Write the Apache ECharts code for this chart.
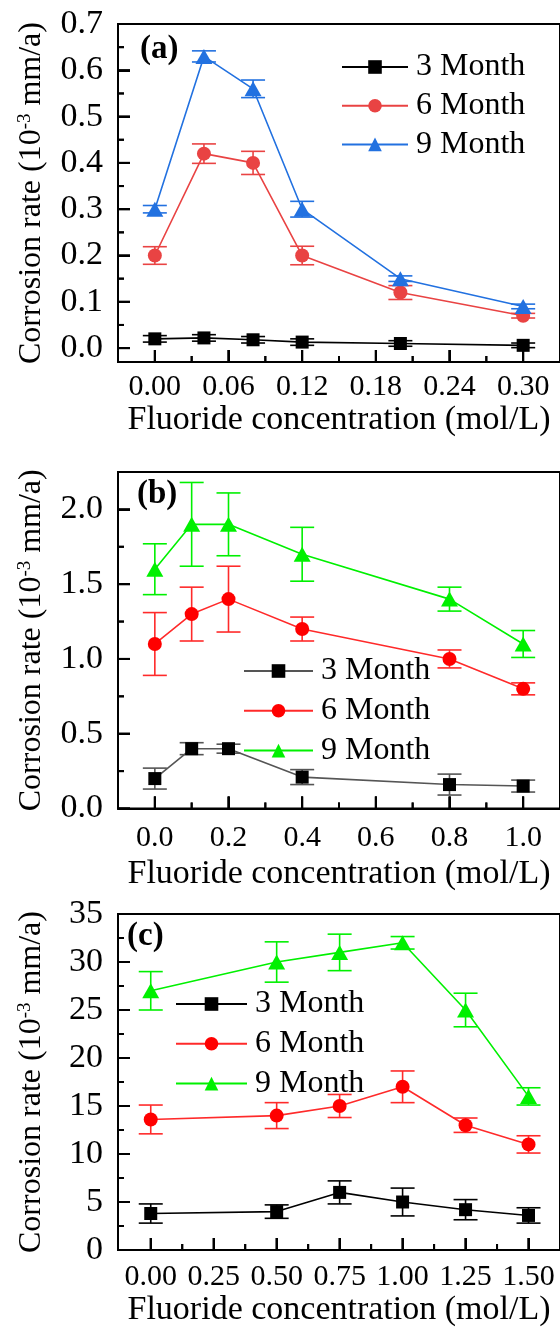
<!DOCTYPE html>
<html>
<head>
<meta charset="utf-8">
<script src="https://cdn.jsdelivr.net/npm/echarts@6/dist/echarts.min.js"></script>
<style>
  html, body { margin: 0; padding: 0; background: #fff; }
  #chart { width: 560px; height: 1329px; background: #fff; }
</style>
</head>
<body>
<div id="chart"></div>
<script>
// ---- Panel (a) ----
const aConc = [0, 0.04, 0.08, 0.12, 0.20, 0.30];
const a3 = [0.020, 0.022, 0.018, 0.013, 0.010, 0.006];
const a3Err = [0.007, 0.007, 0.007, 0.007, 0.006, 0.005];
const a6 = [0.20, 0.42, 0.40, 0.20, 0.12, 0.07];
const a6Err = [0.019, 0.021, 0.025, 0.020, 0.015, 0.005];
const a9 = [0.30, 0.63, 0.56, 0.30, 0.15, 0.09];
const a9Err = [0.008, 0.012, 0.019, 0.017, 0.006, 0.005];
const aXTicks = [0, 0.06, 0.12, 0.18, 0.24, 0.30];
const aXMinor = [0.03, 0.09, 0.15, 0.21, 0.27];
const aYTicks = [0, 0.1, 0.2, 0.3, 0.4, 0.5, 0.6, 0.7];
const aYMinor = [0.05, 0.15, 0.25, 0.35, 0.45, 0.55, 0.65];

// ---- Panel (b) ----
const bConc = [0, 0.1, 0.2, 0.4, 0.8, 1.0];
const b3 = [0.20, 0.40, 0.40, 0.21, 0.16, 0.15];
const b3Err = [0.07, 0.04, 0.03, 0.05, 0.07, 0.04];
const b6 = [1.10, 1.30, 1.40, 1.20, 1.00, 0.80];
const b6Err = [0.21, 0.18, 0.22, 0.08, 0.06, 0.04];
const b9 = [1.60, 1.90, 1.90, 1.70, 1.40, 1.10];
const b9Err = [0.17, 0.28, 0.21, 0.18, 0.08, 0.09];
const bXTicks = [0, 0.2, 0.4, 0.6, 0.8, 1.0];
const bXMinor = [0.1, 0.3, 0.5, 0.7, 0.9];
const bYTicks = [0, 0.5, 1.0, 1.5, 2.0];
const bYMinor = [0.25, 0.75, 1.25, 1.75];

// ---- Panel (c) ----
const cConc = [0, 0.5, 0.75, 1.0, 1.25, 1.5];
const c3 = [3.8, 4.0, 6.0, 5.0, 4.2, 3.6];
const c3Err = [1.0, 0.7, 1.2, 1.45, 1.05, 0.8];
const c6 = [13.6, 14.0, 15.0, 17.0, 13.0, 11.0];
const c6Err = [1.5, 1.35, 1.2, 1.65, 0.75, 0.9];
const c9 = [27.0, 30.0, 31.0, 32.0, 25.0, 16.0];
const c9Err = [2.0, 2.1, 1.9, 0.65, 1.75, 0.9];
const cXTicks = [0, 0.25, 0.5, 0.75, 1.0, 1.25, 1.5];
const cXMinor = [0.125, 0.375, 0.625, 0.875, 1.125, 1.375];
const cYTicks = [0, 5, 10, 15, 20, 25, 30, 35];
const cYMinor = [2.5, 7.5, 12.5, 17.5, 22.5, 27.5, 32.5];

const monthNames = ['3 Month', '6 Month', '9 Month'];
const xTitle = 'Fluoride concentration (mol/L)';
const yTitle = 'Corrosion rate (10{sup|-3} mm/a)';

const FONT = '"Liberation Serif", "Times New Roman", serif';

// panel layout and styling
const panels = [
  {
    key: 'a', label: '(a)', conc: aConc,
    vals: [a3, a6, a9], errs: [a3Err, a6Err, a9Err],
    colors: ['#000000', '#e94343', '#2271e0'], lineColors: ['#000000', '#e94343', '#2271e0'],
    xMin: -0.03, xMax: 0.33, yMin: -0.03, yMax: 0.7,
    xTicks: aXTicks, xMinor: aXMinor, yTicks: aYTicks, yMinor: aYMinor, xDec: 2, yDec: 1,
    top: 24, height: 338, xMargin: 10, xGap: 40,
    labelPos: [140, 33],
    legend: { left: 341, top: 51, gap: 6.7, width: 66 }
  },
  {
    key: 'b', label: '(b)', conc: bConc,
    vals: [b3, b6, b9], errs: [b3Err, b6Err, b9Err],
    colors: ['#000000', '#ff0000', '#00f000'], lineColors: ['#555555', '#ff2a2a', '#00f000'],
    xMin: -0.1, xMax: 1.1, yMin: 0, yMax: 2.25,
    xTicks: bXTicks, xMinor: bXMinor, yTicks: bYTicks, yMinor: bYMinor, xDec: 1, yDec: 1,
    top: 472, height: 336.5, xMargin: 15, xGap: 49,
    labelPos: [137, 478],
    legend: { left: 243, top: 655, gap: 7.8, width: 69 }
  },
  {
    key: 'c', label: '(c)', conc: cConc,
    vals: [c3, c6, c9], errs: [c3Err, c6Err, c9Err],
    colors: ['#000000', '#ff0000', '#00f000'], lineColors: ['#000000', '#ff2a2a', '#00f000'],
    xMin: -0.13, xMax: 1.625, yMin: 0, yMax: 35,
    xTicks: cXTicks, xMinor: cXMinor, yTicks: cYTicks, yMinor: cYMinor, xDec: 2, yDec: 0,
    top: 914, height: 336, xMargin: 12, xGap: 36,
    labelPos: [127, 920],
    legend: { left: 175, top: 988, gap: 7.8, width: 71 }
  }
];

const symbols = ['rect', 'circle', 'triangle'];
const symbolSizes = [13, 14, [17, 15]];
const MAJOR_LEN = 12, MINOR_LEN = 6;

const grid = [], xAxis = [], yAxis = [], series = [], legend = [], title = [];

panels.forEach((p, gi) => {
  grid.push({
    left: 118, width: 444, top: p.top, height: p.height,
    show: true, borderColor: '#000', borderWidth: 2
  });

  xAxis.push({
    type: 'value', gridIndex: gi, min: p.xMin, max: p.xMax, position: 'bottom',
    axisLine: { show: true, onZero: false, lineStyle: { color: '#000', width: 2 } },
    splitLine: { show: false },
    axisTick: { show: true, inside: true, length: MAJOR_LEN, customValues: p.xTicks,
      lineStyle: { color: '#000', width: 2 } },
    axisLabel: {
      customValues: p.xTicks, formatter: v => v.toFixed(p.xDec), margin: p.xMargin,
      color: '#000', fontFamily: FONT, fontSize: 30
    },
    name: xTitle, nameLocation: 'middle', nameGap: p.xGap,
    nameTextStyle: { color: '#000', fontFamily: FONT, fontSize: 34 }
  });
  yAxis.push({
    type: 'value', gridIndex: gi, min: p.yMin, max: p.yMax, position: 'left',
    axisLine: { show: true, onZero: false, lineStyle: { color: '#000', width: 2 } },
    splitLine: { show: false },
    axisTick: { show: true, inside: true, length: MAJOR_LEN, customValues: p.yTicks,
      lineStyle: { color: '#000', width: 2 } },
    axisLabel: {
      customValues: p.yTicks, formatter: v => v.toFixed(p.yDec), margin: 15,
      color: '#000', fontFamily: FONT, fontSize: 34
    },
    name: yTitle, nameLocation: 'middle', nameGap: 70,
    nameTextStyle: {
      color: '#000', fontFamily: FONT, fontSize: 32, lineHeight: 32,
      rich: { sup: { color: '#000', fontFamily: FONT, fontSize: 19, lineHeight: 19, verticalAlign: 'top' } }
    }
  });

  // inward major/minor ticks along the bottom and left spines, positioned by the
  // axis scales; third value: 0/1 = x major/minor, 2/3 = y major/minor
  const tickRows = [].concat(
    p.xTicks.map(v => [v, p.yMin, 0]), p.xMinor.map(v => [v, p.yMin, 1]),
    p.yTicks.map(v => [p.xMin, v, 2]), p.yMinor.map(v => [p.xMin, v, 3])
  );
  series.push({
    type: 'custom', xAxisIndex: gi, yAxisIndex: gi, zlevel: 1,
    data: tickRows,
    encode: { x: 0, y: 1 },
    renderItem: (params, api) => {
      const c = api.coord([api.value(0), api.value(1)]);
      const kind = api.value(2);
      const len = (kind === 0 || kind === 2) ? MAJOR_LEN : MINOR_LEN;
      const shape = kind < 2
        ? { x1: c[0], y1: c[1], x2: c[0], y2: c[1] - len }
        : { x1: c[0], y1: c[1], x2: c[0] + len, y2: c[1] };
      return { type: 'line', shape, style: { stroke: '#000', lineWidth: 2 } };
    }
  });

  const names = [];
  p.vals.forEach((vals, si) => {
    const name = p.key + ':' + monthNames[si];
    names.push(name);
    const color = p.colors[si];
    const lineColor = p.lineColors[si];
    // error bars
    series.push({
      type: 'custom', name: name + ' err', xAxisIndex: gi, yAxisIndex: gi,
      silent: true, z: 2,
      data: p.conc.map((x, i) => [x, vals[i], p.errs[si][i]]),
      encode: { x: 0, y: 1 },
      renderItem: (params, api) => {
        const x = api.value(0), y = api.value(1), e = api.value(2);
        const t = api.coord([x, y + e]);
        const b = api.coord([x, y - e]);
        const hw = 12;
        const style = { stroke: lineColor, lineWidth: 1.6, fill: null };
        return {
          type: 'group', children: [
            { type: 'line', shape: { x1: t[0], y1: t[1], x2: b[0], y2: b[1] }, style },
            { type: 'line', shape: { x1: t[0] - hw, y1: t[1], x2: t[0] + hw, y2: t[1] }, style },
            { type: 'line', shape: { x1: b[0] - hw, y1: b[1], x2: b[0] + hw, y2: b[1] }, style }
          ]
        };
      }
    });
    // line + markers
    series.push({
      type: 'line', name, xAxisIndex: gi, yAxisIndex: gi, z: 3,
      data: p.conc.map((x, i) => [x, vals[i]]),
      symbol: symbols[si], symbolSize: symbolSizes[si], showSymbol: true,
      itemStyle: { color: color },
      lineStyle: { color: lineColor, width: 1.6 },
      emphasis: { disabled: true }, animation: false
    });
  });

  legend.push({
    data: names, orient: 'vertical', left: p.legend.left, top: p.legend.top,
    padding: 0, itemWidth: p.legend.width, itemHeight: 17, itemGap: p.legend.gap,
    formatter: n => n.split(':')[1],
    textStyle: { color: '#000', fontFamily: FONT, fontSize: 32, lineHeight: 30, padding: [0, 0, 0, 3] },
    selectedMode: false
  });

  title.push({
    text: p.label, left: p.labelPos[0], top: p.labelPos[1], padding: 0,
    textStyle: { color: '#000', fontFamily: FONT, fontSize: 33, fontWeight: 'bold', lineHeight: 33 }
  });
});

const chart = echarts.init(document.getElementById('chart'), null, { renderer: 'canvas' });
chart.setOption({
  animation: false,
  title, grid, xAxis, yAxis, legend, series
});

// spine ticks as a top layer, placed with the chart's own value-to-pixel conversion
const tickLines = [];
panels.forEach((p, gi) => {
  const push = (val, isX, len) => {
    const pt = chart.convertToPixel({ gridIndex: gi }, isX ? [val, p.yMin] : [p.xMin, val]);
    if (!pt || isNaN(pt[0]) || isNaN(pt[1])) return;
    tickLines.push({
      type: 'line', zlevel: 2, silent: true,
      shape: isX ? { x1: pt[0], y1: pt[1], x2: pt[0], y2: pt[1] - len }
                 : { x1: pt[0], y1: pt[1], x2: pt[0] + len, y2: pt[1] },
      style: { stroke: '#000', lineWidth: 2 }
    });
  };
  p.xTicks.forEach(v => push(v, true, MAJOR_LEN));
  p.xMinor.forEach(v => push(v, true, MINOR_LEN));
  p.yTicks.forEach(v => push(v, false, MAJOR_LEN));
  p.yMinor.forEach(v => push(v, false, MINOR_LEN));
});
chart.setOption({ graphic: { elements: tickLines } });
</script>
</body>
</html>
